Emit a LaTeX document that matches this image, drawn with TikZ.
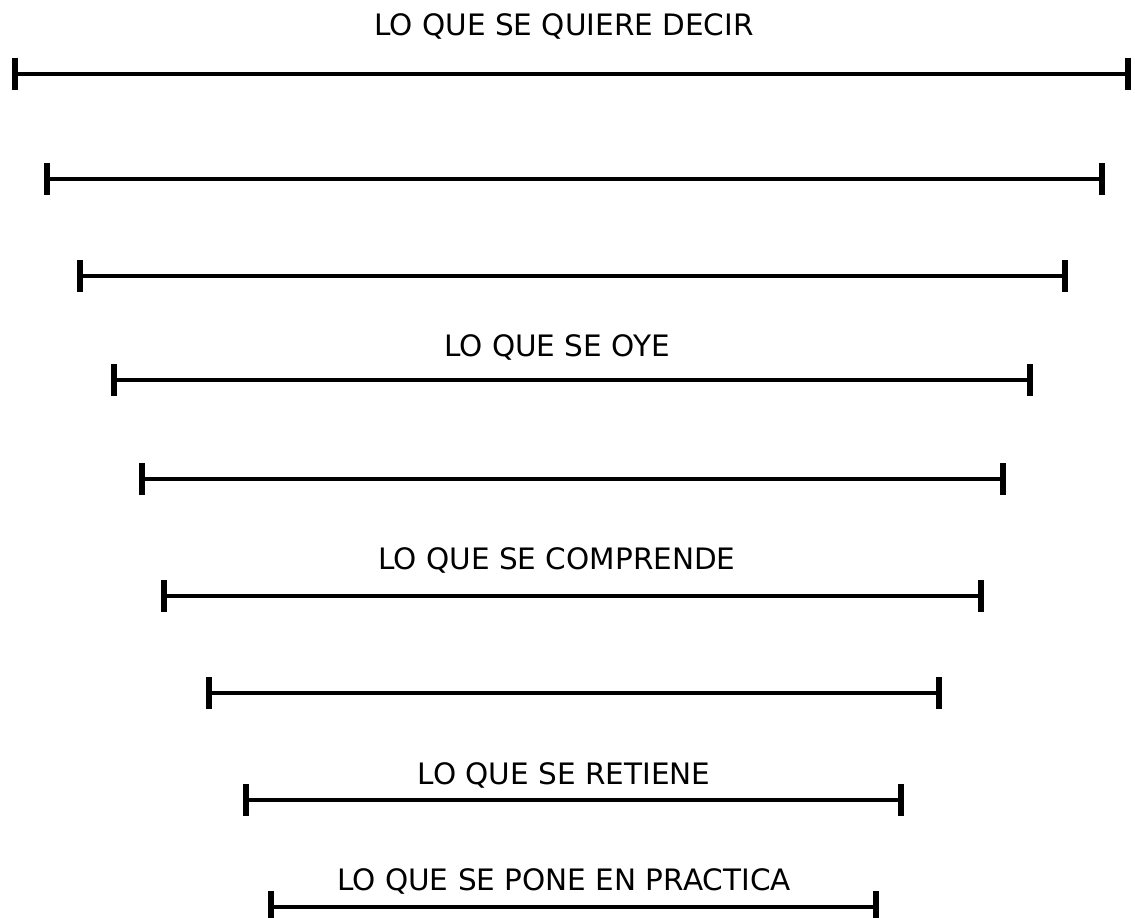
\documentclass[tikz,border=0pt]{standalone}
\usepackage{fontspec}
\setmainfont{DejaVu Sans}
\usetikzlibrary{arrows.meta}

\begin{document}
\begin{tikzpicture}[x=1pt,y=-1pt]
  \useasboundingbox (0,0) rectangle (1135,918);
  \tikzstyle{barline}=[line width=4.5pt,{Bar[width=32pt,line width=6pt]}-{Bar[width=32pt,line width=6pt]}]
  \tikzstyle{bartext}=[inner sep=0pt,anchor=base,font=\fontsize{29.5}{32}\selectfont]
  % ends of the bars
  \coordinate (l1) at (12,74);   \coordinate (r1) at (1131,74);
  \coordinate (l2) at (44,179);  \coordinate (r2) at (1105,179);
  \coordinate (l3) at (77,276);  \coordinate (r3) at (1068,276);
  \coordinate (l4) at (111,380); \coordinate (r4) at (1033,380);
  \coordinate (l5) at (139,479); \coordinate (r5) at (1006,479);
  \coordinate (l6) at (161,596); \coordinate (r6) at (984,596);
  \coordinate (l7) at (206,693); \coordinate (r7) at (942,693);
  \coordinate (l8) at (243,800); \coordinate (r8) at (904,800);
  \coordinate (l9) at (268,907); \coordinate (r9) at (879,907);
  \draw[barline] (l1) -- (r1);
  \draw[barline] (l2) -- (r2);
  \draw[barline] (l3) -- (r3);
  \draw[barline] (l4) -- (r4);
  \draw[barline] (l5) -- (r5);
  \draw[barline] (l6) -- (r6);
  \draw[barline] (l7) -- (r7);
  \draw[barline] (l8) -- (r8);
  \draw[barline] (l9) -- (r9);
  % what each bar stands for
  \node[bartext] (decir) at (564,35) {LO QUE SE QUIERE DECIR};
  \node[bartext] (oye) at (557,356) {LO QUE SE OYE};
  \node[bartext] (comprende) at (557,569) {LO QUE SE COMPRENDE};
  \node[bartext] (retiene) at (564,784) {LO QUE SE RETIENE};
  \node[bartext] (practica) at (564,890) {LO QUE SE PONE EN PRACTICA};
\end{tikzpicture}
\end{document}
